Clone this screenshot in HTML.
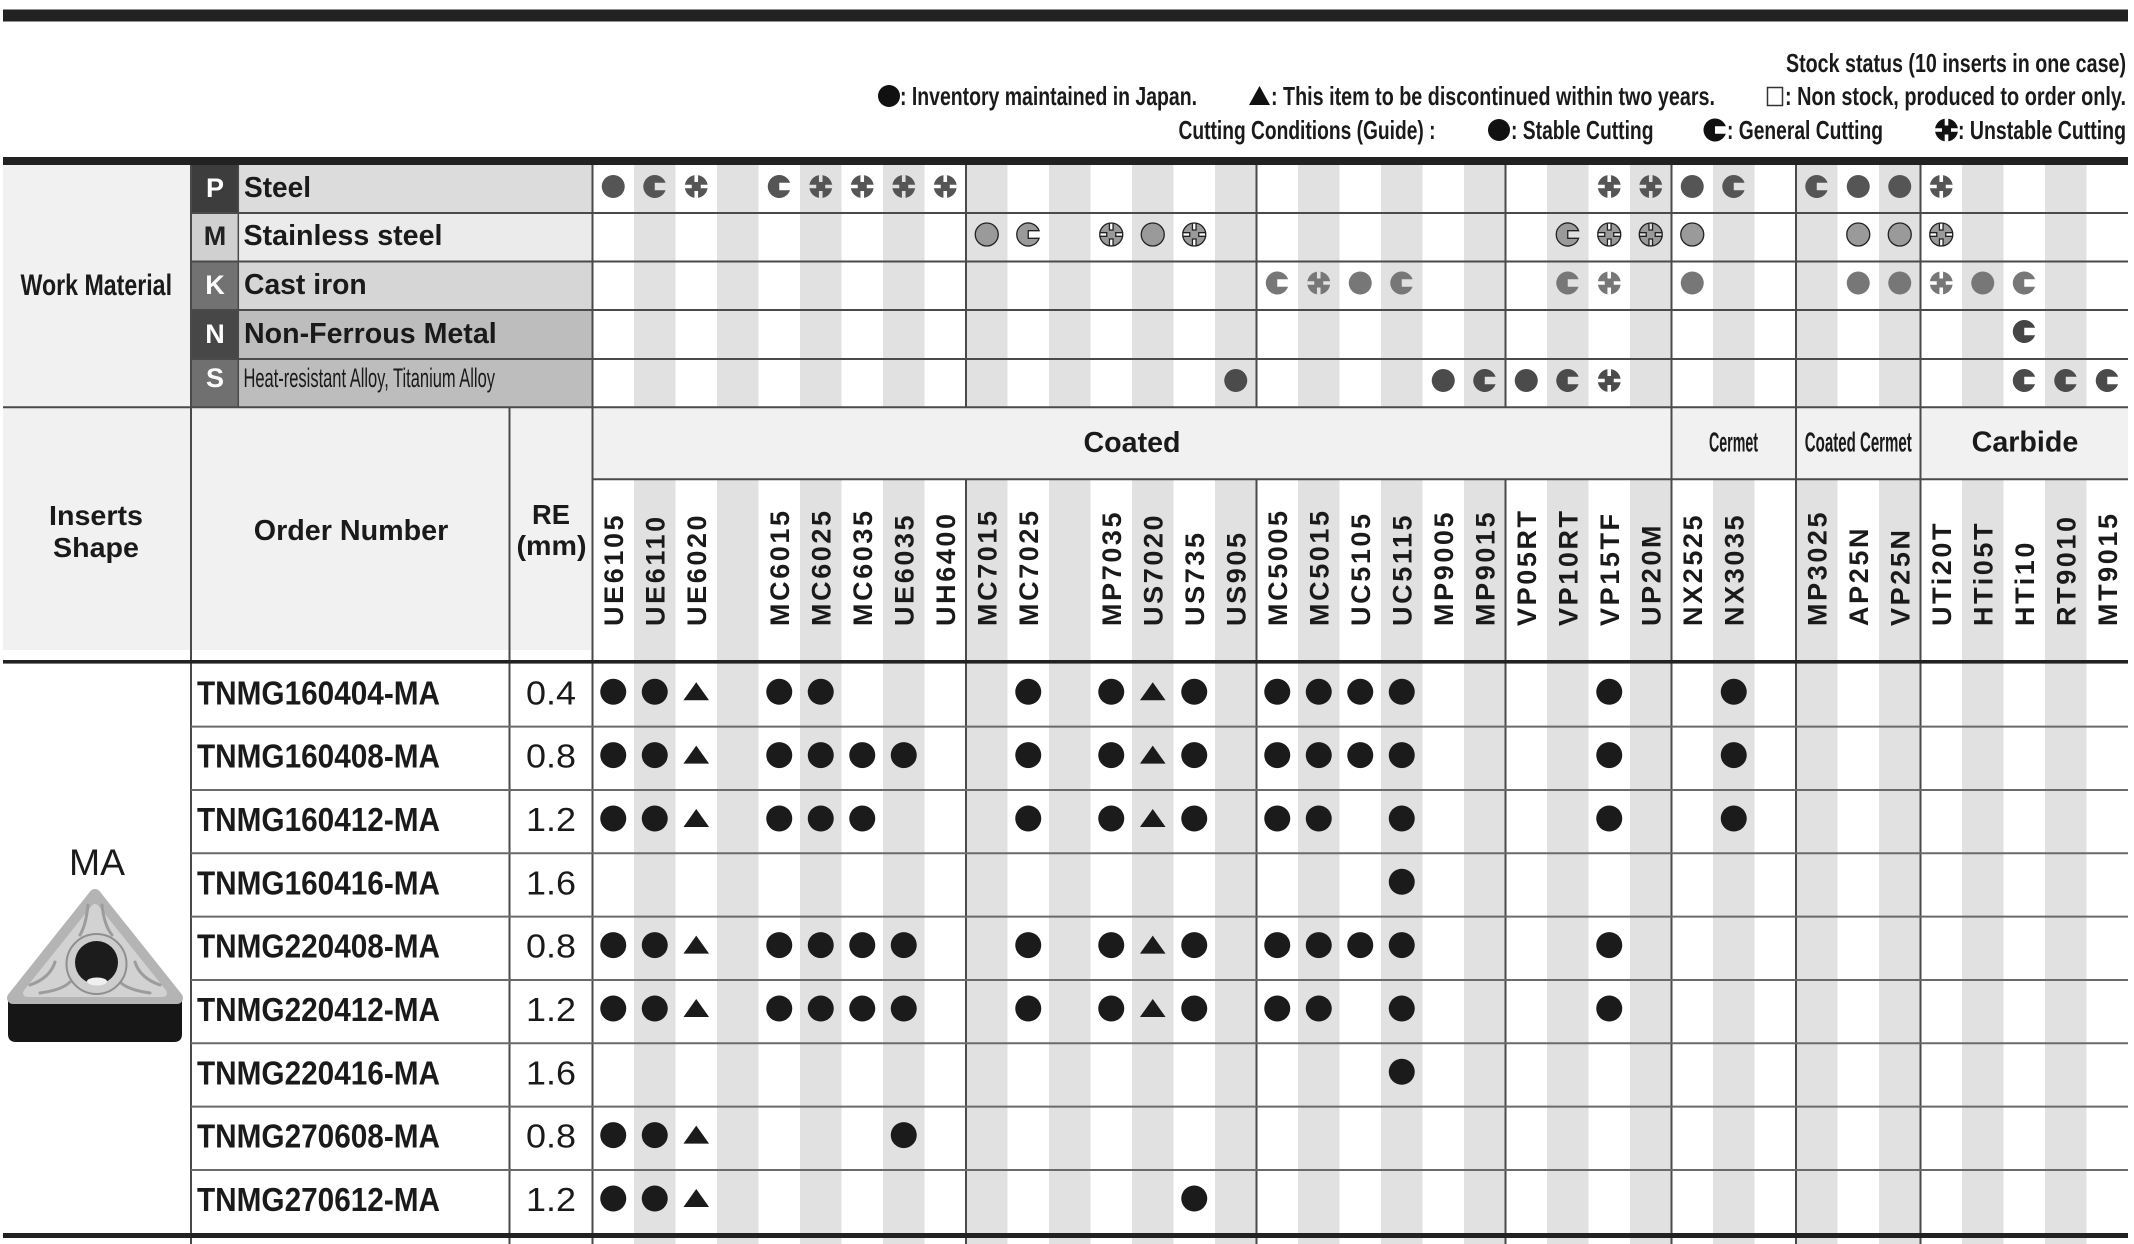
<!DOCTYPE html>
<html><head><meta charset="utf-8"><style>
html,body{margin:0;padding:0;background:#fff;}
svg{display:block;}
text{font-family:"Liberation Sans",Arial,sans-serif;fill:#1a1a1a;}
.b{font-weight:bold;}
.cl{font-weight:bold;font-size:27px;letter-spacing:2.6px;}
</style></head><body>
<svg xmlns="http://www.w3.org/2000/svg" width="2134" height="1244" viewBox="0 0 2134 1244">
<defs>
<circle id="mc" r="11.5"/>
<path id="mg" d="M10.85 -3.8 A11.5 11.5 0 1 0 10.85 3.8 L0 3.8 L0 -3.8 Z"/>
<path id="mu" fill-rule="evenodd" d="M-11.5 0 A11.5 11.5 0 1 0 11.5 0 A11.5 11.5 0 1 0 -11.5 0 Z M-1.8 -11.4 h3.6 v6.9 h-3.6Z M-1.8 4.5 h3.6 v6.9 h-3.6Z M-11.4 -1.8 h6.9 v3.6 h-6.9Z M4.5 -1.8 h6.9 v3.6 h-6.9Z"/>
<circle id="d" r="13" fill="#1b1b1b"/>
<path id="t" d="M0 -9.5 L12.8 8.5 L-12.8 8.5Z" fill="#1b1b1b"/>
</defs>
<rect width="2134" height="1244" fill="#fff"/>
<!-- top bar -->
<rect x="3" y="9.5" width="2125" height="12" fill="#222"/>
<!-- legend -->
<text class="b" x="1786" y="72" font-size="26" textLength="340" lengthAdjust="spacingAndGlyphs">Stock status (10 inserts in one case)</text>
<circle cx="889" cy="96" r="11" fill="#111"/>
<text class="b" x="900" y="105" font-size="26" textLength="297" lengthAdjust="spacingAndGlyphs">: Inventory maintained in Japan.</text>
<polygon points="1249,105 1270,105 1259.5,86" fill="#111"/>
<text class="b" x="1271" y="105" font-size="26" textLength="444" lengthAdjust="spacingAndGlyphs">: This item to be discontinued within two years.</text>
<rect x="1767.5" y="87.5" width="15" height="18" fill="#fff" stroke="#333" stroke-width="1.5"/>
<text class="b" x="1785" y="105" font-size="26" textLength="341" lengthAdjust="spacingAndGlyphs">: Non stock, produced to order only.</text>
<text class="b" x="1178.5" y="139" font-size="26" textLength="257" lengthAdjust="spacingAndGlyphs">Cutting Conditions (Guide) :</text>
<circle cx="1499" cy="130" r="11" fill="#111"/>
<text class="b" x="1511" y="139" font-size="26" textLength="142.5" lengthAdjust="spacingAndGlyphs">: Stable Cutting</text>
<use href="#mg" x="1715" y="130" fill="#111"/>
<text class="b" x="1727" y="139" font-size="26" textLength="156" lengthAdjust="spacingAndGlyphs">: General Cutting</text>
<use href="#mu" x="1946.5" y="130" fill="#111"/>
<text class="b" x="1958" y="139" font-size="26" textLength="168" lengthAdjust="spacingAndGlyphs">: Unstable Cutting</text>
<!-- second bar -->
<rect x="3" y="157" width="2125" height="8" fill="#222"/>
<!-- work material cell -->
<rect x="3" y="165" width="188" height="242.3" fill="#f1f1f1"/>
<!-- stripes -->
<g fill="#e1e1e1">
<rect x="634" y="165" width="41.5" height="1079"/>
<rect x="717" y="165" width="41.5" height="1079"/>
<rect x="800" y="165" width="41.5" height="1079"/>
<rect x="883" y="165" width="41.5" height="1079"/>
<rect x="966" y="165" width="41.5" height="1079"/>
<rect x="1049" y="165" width="41.5" height="1079"/>
<rect x="1132" y="165" width="41.5" height="1079"/>
<rect x="1215" y="165" width="41.5" height="1079"/>
<rect x="1298" y="165" width="41.5" height="1079"/>
<rect x="1381" y="165" width="41.5" height="1079"/>
<rect x="1464" y="165" width="41.5" height="1079"/>
<rect x="1547" y="165" width="41.5" height="1079"/>
<rect x="1630" y="165" width="41.5" height="1079"/>
<rect x="1713" y="165" width="41.5" height="1079"/>
<rect x="1796" y="165" width="41.5" height="1079"/>
<rect x="1879" y="165" width="41.5" height="1079"/>
<rect x="1962" y="165" width="41.5" height="1079"/>
<rect x="2045" y="165" width="41.5" height="1079"/>
</g>
<!-- material letter and text cells -->
<rect x="191" y="165" width="47.3" height="48" fill="#3d3d3d"/>
<rect x="238.3" y="165" width="354.2" height="48" fill="#dcdcdc"/>
<rect x="191" y="213" width="47.3" height="48.5" fill="#d0d0d0"/>
<rect x="238.3" y="213" width="354.2" height="48.5" fill="#ebebeb"/>
<rect x="191" y="261.5" width="47.3" height="48.5" fill="#727272"/>
<rect x="238.3" y="261.5" width="354.2" height="48.5" fill="#d6d6d6"/>
<rect x="191" y="310" width="47.3" height="49" fill="#474747"/>
<rect x="238.3" y="310" width="354.2" height="49" fill="#bdbdbd"/>
<rect x="191" y="359" width="47.3" height="48.3" fill="#707070"/>
<rect x="238.3" y="359" width="354.2" height="48.3" fill="#bdbdbd"/>
<!-- header bgs -->
<rect x="3" y="407.3" width="589.5" height="242.7" fill="#f1f1f1"/>
<rect x="592.5" y="407.3" width="1535.5" height="72" fill="#f1f1f1"/>
<!-- lines -->
<g stroke="#4a4a4a" stroke-width="2">
<line x1="191" y1="213" x2="2128" y2="213"/>
<line x1="191" y1="261.5" x2="2128" y2="261.5"/>
<line x1="191" y1="310" x2="2128" y2="310"/>
<line x1="191" y1="359" x2="2128" y2="359"/>
<line x1="3" y1="407.3" x2="2128" y2="407.3"/>
<line x1="592.5" y1="479.3" x2="2128" y2="479.3"/>
<line x1="191" y1="165" x2="191" y2="1244"/>
<line x1="238.3" y1="165" x2="238.3" y2="407" stroke-width="1.5"/>
<line x1="509.5" y1="407" x2="509.5" y2="1244"/>
<line x1="592.5" y1="165" x2="592.5" y2="1244"/>
<line x1="966" y1="165" x2="966" y2="407"/>
<line x1="966" y1="479" x2="966" y2="1244"/>
<line x1="1256.5" y1="165" x2="1256.5" y2="407"/>
<line x1="1256.5" y1="479" x2="1256.5" y2="1244"/>
<line x1="1505.5" y1="165" x2="1505.5" y2="407"/>
<line x1="1505.5" y1="479" x2="1505.5" y2="1244"/>
<line x1="1671.5" y1="165" x2="1671.5" y2="1244"/>
<line x1="1796" y1="165" x2="1796" y2="1244"/>
<line x1="1920.5" y1="165" x2="1920.5" y2="1244"/>
</g>
<g stroke="#6a6a6a" stroke-width="2">
<line x1="191" y1="726.6" x2="2128" y2="726.6"/>
<line x1="191" y1="790" x2="2128" y2="790"/>
<line x1="191" y1="853.3" x2="2128" y2="853.3"/>
<line x1="191" y1="916.6" x2="2128" y2="916.6"/>
<line x1="191" y1="980" x2="2128" y2="980"/>
<line x1="191" y1="1043.3" x2="2128" y2="1043.3"/>
<line x1="191" y1="1106.6" x2="2128" y2="1106.6"/>
<line x1="191" y1="1170" x2="2128" y2="1170"/>
</g>
<rect x="3" y="660" width="2125" height="3.6" fill="#222"/>
<rect x="3" y="1233" width="2125" height="5" fill="#222"/>
<!-- material texts -->
<text class="b" x="20.5" y="295" font-size="30" textLength="151.5" lengthAdjust="spacingAndGlyphs">Work Material</text>
<text class="b" x="215" y="197" font-size="27" text-anchor="middle" style="fill:#fff">P</text>
<text class="b" x="215" y="245" font-size="27" text-anchor="middle" style="fill:#222">M</text>
<text class="b" x="215" y="294" font-size="27" text-anchor="middle" style="fill:#fff">K</text>
<text class="b" x="215" y="343" font-size="27" text-anchor="middle" style="fill:#fff">N</text>
<text class="b" x="215" y="387" font-size="27" text-anchor="middle" style="fill:#fff">S</text>
<text class="b" x="244" y="197" font-size="28.5" textLength="67" lengthAdjust="spacingAndGlyphs">Steel</text>
<text class="b" x="243.5" y="245" font-size="28.5" textLength="199" lengthAdjust="spacingAndGlyphs">Stainless steel</text>
<text class="b" x="244" y="294" font-size="28.5" textLength="122.7" lengthAdjust="spacingAndGlyphs">Cast iron</text>
<text class="b" x="244" y="343" font-size="28.5" textLength="252.7" lengthAdjust="spacingAndGlyphs">Non-Ferrous Metal</text>
<text x="243.5" y="387" font-size="26.5" textLength="251.5" lengthAdjust="spacingAndGlyphs">Heat-resistant Alloy, Titanium Alloy</text>
<!-- header texts -->
<text class="b" x="96" y="525" font-size="28" text-anchor="middle" textLength="94" lengthAdjust="spacingAndGlyphs">Inserts</text>
<text class="b" x="96" y="557" font-size="28" text-anchor="middle" textLength="86" lengthAdjust="spacingAndGlyphs">Shape</text>
<text class="b" x="351" y="540" font-size="28.5" text-anchor="middle" textLength="194.5" lengthAdjust="spacingAndGlyphs">Order Number</text>
<text class="b" x="551" y="524" font-size="28" text-anchor="middle" textLength="38" lengthAdjust="spacingAndGlyphs">RE</text>
<text class="b" x="551.5" y="555" font-size="28" text-anchor="middle" textLength="70" lengthAdjust="spacingAndGlyphs">(mm)</text>
<text class="b" x="1132" y="452" font-size="29" text-anchor="middle" textLength="97" lengthAdjust="spacingAndGlyphs">Coated</text>
<text class="b" x="1733.5" y="451.5" font-size="28" text-anchor="middle" textLength="49" lengthAdjust="spacingAndGlyphs">Cermet</text>
<text class="b" x="1858.3" y="451.5" font-size="28" text-anchor="middle" textLength="107" lengthAdjust="spacingAndGlyphs">Coated Cermet</text>
<text class="b" x="2025" y="451.5" font-size="29" text-anchor="middle" textLength="106.7" lengthAdjust="spacingAndGlyphs">Carbide</text>
<!-- column labels -->
<g class="cl">
<text class="cl" transform="translate(622.75,626) rotate(-90)">UE6105</text>
<text class="cl" transform="translate(664.25,626) rotate(-90)">UE6110</text>
<text class="cl" transform="translate(705.75,626) rotate(-90)">UE6020</text>
<text class="cl" transform="translate(788.75,626) rotate(-90)">MC6015</text>
<text class="cl" transform="translate(830.25,626) rotate(-90)">MC6025</text>
<text class="cl" transform="translate(871.75,626) rotate(-90)">MC6035</text>
<text class="cl" transform="translate(913.25,626) rotate(-90)">UE6035</text>
<text class="cl" transform="translate(954.75,626) rotate(-90)">UH6400</text>
<text class="cl" transform="translate(996.25,626) rotate(-90)">MC7015</text>
<text class="cl" transform="translate(1037.75,626) rotate(-90)">MC7025</text>
<text class="cl" transform="translate(1120.75,626) rotate(-90)">MP7035</text>
<text class="cl" transform="translate(1162.25,626) rotate(-90)">US7020</text>
<text class="cl" transform="translate(1203.75,626) rotate(-90)">US735</text>
<text class="cl" transform="translate(1245.25,626) rotate(-90)">US905</text>
<text class="cl" transform="translate(1286.75,626) rotate(-90)">MC5005</text>
<text class="cl" transform="translate(1328.25,626) rotate(-90)">MC5015</text>
<text class="cl" transform="translate(1369.75,626) rotate(-90)">UC5105</text>
<text class="cl" transform="translate(1411.25,626) rotate(-90)">UC5115</text>
<text class="cl" transform="translate(1452.75,626) rotate(-90)">MP9005</text>
<text class="cl" transform="translate(1494.25,626) rotate(-90)">MP9015</text>
<text class="cl" transform="translate(1535.75,626) rotate(-90)">VP05RT</text>
<text class="cl" transform="translate(1577.25,626) rotate(-90)">VP10RT</text>
<text class="cl" transform="translate(1618.75,626) rotate(-90)">VP15TF</text>
<text class="cl" transform="translate(1660.25,626) rotate(-90)">UP20M</text>
<text class="cl" transform="translate(1701.75,626) rotate(-90)">NX2525</text>
<text class="cl" transform="translate(1743.25,626) rotate(-90)">NX3035</text>
<text class="cl" transform="translate(1826.25,626) rotate(-90)">MP3025</text>
<text class="cl" transform="translate(1867.75,626) rotate(-90)">AP25N</text>
<text class="cl" transform="translate(1909.25,626) rotate(-90)">VP25N</text>
<text class="cl" transform="translate(1950.75,626) rotate(-90)">UTi20T</text>
<text class="cl" transform="translate(1992.25,626) rotate(-90)">HTi05T</text>
<text class="cl" transform="translate(2033.75,626) rotate(-90)">HTi10</text>
<text class="cl" transform="translate(2075.25,626) rotate(-90)">RT9010</text>
<text class="cl" transform="translate(2116.75,626) rotate(-90)">MT9015</text>
</g>
<!-- material markers -->
<g fill="#555">
<use href="#mc" x="613.25" y="186.5"/><use href="#mg" x="654.75" y="186.5"/><use href="#mu" x="696.25" y="186.5"/>
<use href="#mg" x="779.25" y="186.5"/><use href="#mu" x="820.75" y="186.5"/><use href="#mu" x="862.25" y="186.5"/><use href="#mu" x="903.75" y="186.5"/><use href="#mu" x="945.25" y="186.5"/>
<use href="#mu" x="1609.25" y="186.5"/><use href="#mu" x="1650.75" y="186.5"/><use href="#mc" x="1692.25" y="186.5"/><use href="#mg" x="1733.75" y="186.5"/>
<use href="#mg" x="1816.75" y="186.5"/><use href="#mc" x="1858.25" y="186.5"/><use href="#mc" x="1899.75" y="186.5"/><use href="#mu" x="1941.25" y="186.5"/>
</g>
<g fill="#9a9a9a" stroke="#222" stroke-width="1.3">
<use href="#mc" x="986.75" y="234.5"/><use href="#mg" x="1028.25" y="234.5"/>
<use href="#mu" x="1111.25" y="234.5"/><use href="#mc" x="1152.75" y="234.5"/><use href="#mu" x="1194.25" y="234.5"/>
<use href="#mg" x="1567.75" y="234.5"/><use href="#mu" x="1609.25" y="234.5"/><use href="#mu" x="1650.75" y="234.5"/><use href="#mc" x="1692.25" y="234.5"/>
<use href="#mc" x="1858.25" y="234.5"/><use href="#mc" x="1899.75" y="234.5"/><use href="#mu" x="1941.25" y="234.5"/>
</g>
<g fill="#777">
<use href="#mg" x="1277.25" y="283"/><use href="#mu" x="1318.75" y="283"/><use href="#mc" x="1360.25" y="283"/><use href="#mg" x="1401.75" y="283"/>
<use href="#mg" x="1567.75" y="283"/><use href="#mu" x="1609.25" y="283"/><use href="#mc" x="1692.25" y="283"/>
<use href="#mc" x="1858.25" y="283"/><use href="#mc" x="1899.75" y="283"/><use href="#mu" x="1941.25" y="283"/><use href="#mc" x="1982.75" y="283"/><use href="#mg" x="2024.25" y="283"/>
</g>
<g fill="#454545">
<use href="#mg" x="2024.25" y="331.5"/>
</g>
<g fill="#4b4b4b">
<use href="#mc" x="1235.75" y="380.5"/>
<use href="#mc" x="1443.25" y="380.5"/><use href="#mg" x="1484.75" y="380.5"/><use href="#mc" x="1526.25" y="380.5"/><use href="#mg" x="1567.75" y="380.5"/><use href="#mu" x="1609.25" y="380.5"/>
<use href="#mg" x="2024.25" y="380.5"/><use href="#mg" x="2065.75" y="380.5"/><use href="#mg" x="2107.25" y="380.5"/>
</g>
<!-- data rows text -->
<g class="b" font-size="33">
<text class="b" x="197" y="704.3" textLength="243" lengthAdjust="spacingAndGlyphs">TNMG160404-MA</text>
<text class="b" x="197" y="767.6" textLength="243" lengthAdjust="spacingAndGlyphs">TNMG160408-MA</text>
<text class="b" x="197" y="831" textLength="243" lengthAdjust="spacingAndGlyphs">TNMG160412-MA</text>
<text class="b" x="197" y="894.3" textLength="243" lengthAdjust="spacingAndGlyphs">TNMG160416-MA</text>
<text class="b" x="197" y="957.6" textLength="243" lengthAdjust="spacingAndGlyphs">TNMG220408-MA</text>
<text class="b" x="197" y="1021" textLength="243" lengthAdjust="spacingAndGlyphs">TNMG220412-MA</text>
<text class="b" x="197" y="1084.3" textLength="243" lengthAdjust="spacingAndGlyphs">TNMG220416-MA</text>
<text class="b" x="197" y="1147.6" textLength="243" lengthAdjust="spacingAndGlyphs">TNMG270608-MA</text>
<text class="b" x="197" y="1211" textLength="243" lengthAdjust="spacingAndGlyphs">TNMG270612-MA</text>
</g>
<g font-size="33" text-anchor="middle">
<text x="551" y="704.3" textLength="50" lengthAdjust="spacingAndGlyphs">0.4</text>
<text x="551" y="767.6" textLength="50" lengthAdjust="spacingAndGlyphs">0.8</text>
<text x="551" y="831" textLength="50" lengthAdjust="spacingAndGlyphs">1.2</text>
<text x="551" y="894.3" textLength="50" lengthAdjust="spacingAndGlyphs">1.6</text>
<text x="551" y="957.6" textLength="50" lengthAdjust="spacingAndGlyphs">0.8</text>
<text x="551" y="1021" textLength="50" lengthAdjust="spacingAndGlyphs">1.2</text>
<text x="551" y="1084.3" textLength="50" lengthAdjust="spacingAndGlyphs">1.6</text>
<text x="551" y="1147.6" textLength="50" lengthAdjust="spacingAndGlyphs">0.8</text>
<text x="551" y="1211" textLength="50" lengthAdjust="spacingAndGlyphs">1.2</text>
</g>
<!-- data markers -->
<!-- row 0 -->
<use href="#d" x="613.25" y="691.8"/><use href="#d" x="654.75" y="691.8"/><use href="#t" x="696.25" y="691.8"/>
<use href="#d" x="779.25" y="691.8"/><use href="#d" x="820.75" y="691.8"/>
<use href="#d" x="1028.25" y="691.8"/><use href="#d" x="1111.25" y="691.8"/><use href="#t" x="1152.75" y="691.8"/><use href="#d" x="1194.25" y="691.8"/>
<use href="#d" x="1277.25" y="691.8"/><use href="#d" x="1318.75" y="691.8"/><use href="#d" x="1360.25" y="691.8"/><use href="#d" x="1401.75" y="691.8"/>
<use href="#d" x="1609.25" y="691.8"/><use href="#d" x="1733.75" y="691.8"/>
<!-- row 1 -->
<use href="#d" x="613.25" y="755.1"/><use href="#d" x="654.75" y="755.1"/><use href="#t" x="696.25" y="755.1"/>
<use href="#d" x="779.25" y="755.1"/><use href="#d" x="820.75" y="755.1"/><use href="#d" x="862.25" y="755.1"/><use href="#d" x="903.75" y="755.1"/>
<use href="#d" x="1028.25" y="755.1"/><use href="#d" x="1111.25" y="755.1"/><use href="#t" x="1152.75" y="755.1"/><use href="#d" x="1194.25" y="755.1"/>
<use href="#d" x="1277.25" y="755.1"/><use href="#d" x="1318.75" y="755.1"/><use href="#d" x="1360.25" y="755.1"/><use href="#d" x="1401.75" y="755.1"/>
<use href="#d" x="1609.25" y="755.1"/><use href="#d" x="1733.75" y="755.1"/>
<!-- row 2 -->
<use href="#d" x="613.25" y="818.5"/><use href="#d" x="654.75" y="818.5"/><use href="#t" x="696.25" y="818.5"/>
<use href="#d" x="779.25" y="818.5"/><use href="#d" x="820.75" y="818.5"/><use href="#d" x="862.25" y="818.5"/>
<use href="#d" x="1028.25" y="818.5"/><use href="#d" x="1111.25" y="818.5"/><use href="#t" x="1152.75" y="818.5"/><use href="#d" x="1194.25" y="818.5"/>
<use href="#d" x="1277.25" y="818.5"/><use href="#d" x="1318.75" y="818.5"/><use href="#d" x="1401.75" y="818.5"/>
<use href="#d" x="1609.25" y="818.5"/><use href="#d" x="1733.75" y="818.5"/>
<!-- row 3 -->
<use href="#d" x="1401.75" y="881.8"/>
<!-- row 4 -->
<use href="#d" x="613.25" y="945.1"/><use href="#d" x="654.75" y="945.1"/><use href="#t" x="696.25" y="945.1"/>
<use href="#d" x="779.25" y="945.1"/><use href="#d" x="820.75" y="945.1"/><use href="#d" x="862.25" y="945.1"/><use href="#d" x="903.75" y="945.1"/>
<use href="#d" x="1028.25" y="945.1"/><use href="#d" x="1111.25" y="945.1"/><use href="#t" x="1152.75" y="945.1"/><use href="#d" x="1194.25" y="945.1"/>
<use href="#d" x="1277.25" y="945.1"/><use href="#d" x="1318.75" y="945.1"/><use href="#d" x="1360.25" y="945.1"/><use href="#d" x="1401.75" y="945.1"/>
<use href="#d" x="1609.25" y="945.1"/>
<!-- row 5 -->
<use href="#d" x="613.25" y="1008.5"/><use href="#d" x="654.75" y="1008.5"/><use href="#t" x="696.25" y="1008.5"/>
<use href="#d" x="779.25" y="1008.5"/><use href="#d" x="820.75" y="1008.5"/><use href="#d" x="862.25" y="1008.5"/><use href="#d" x="903.75" y="1008.5"/>
<use href="#d" x="1028.25" y="1008.5"/><use href="#d" x="1111.25" y="1008.5"/><use href="#t" x="1152.75" y="1008.5"/><use href="#d" x="1194.25" y="1008.5"/>
<use href="#d" x="1277.25" y="1008.5"/><use href="#d" x="1318.75" y="1008.5"/><use href="#d" x="1401.75" y="1008.5"/>
<use href="#d" x="1609.25" y="1008.5"/>
<!-- row 6 -->
<use href="#d" x="1401.75" y="1071.8"/>
<!-- row 7 -->
<use href="#d" x="613.25" y="1135.1"/><use href="#d" x="654.75" y="1135.1"/><use href="#t" x="696.25" y="1135.1"/>
<use href="#d" x="903.75" y="1135.1"/>
<!-- row 8 -->
<use href="#d" x="613.25" y="1198.5"/><use href="#d" x="654.75" y="1198.5"/><use href="#t" x="696.25" y="1198.5"/>
<use href="#d" x="1194.25" y="1198.5"/>
<!-- insert shape -->
<text x="97" y="875" font-size="37" text-anchor="middle" textLength="56" lengthAdjust="spacingAndGlyphs">MA</text>
<path d="M8 999 L182 999 L182 1034 Q182 1042 174 1042 L16 1042 Q8 1042 8 1034 Z" fill="#161616"/>
<polygon points="95,895 13,998 177,998" fill="#b4b4b4" stroke="#b4b4b4" stroke-width="12" stroke-linejoin="round"/>
<polygon points="95,908 27,993 163,993" fill="#d2d2d2" stroke="#d2d2d2" stroke-width="8" stroke-linejoin="round"/>
<g fill="none" stroke="#9c9c9c" stroke-width="3" stroke-linecap="round">
<path d="M88 905 Q86 925 80 935"/><path d="M102 905 Q104 925 112 935"/>
<path d="M30 985 Q50 978 55 962"/><path d="M40 993 Q62 990 70 982"/>
<path d="M160 985 Q140 978 135 962"/><path d="M150 993 Q128 990 120 982"/>
</g>
<circle cx="96.5" cy="964" r="30" fill="#cdcdcd" stroke="#8f8f8f" stroke-width="2"/>
<circle cx="96.5" cy="962.5" r="21.5" fill="#1c1c1c"/>
<ellipse cx="97" cy="981.5" rx="10" ry="4" fill="#efefef"/>
</svg>
</body></html>
